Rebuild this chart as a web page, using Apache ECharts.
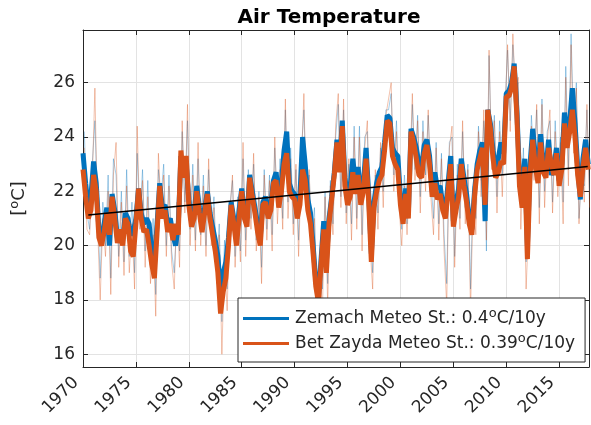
<!DOCTYPE html>
<html>
<head>
<meta charset="utf-8">
<script src="https://cdn.jsdelivr.net/npm/echarts@6/dist/echarts.min.js"></script>
<style>
  html, body { margin: 0; padding: 0; background: #fff; }
  #chart { width: 591px; height: 425px; }
</style>
</head>
<body>
<div id="chart"></div>
<script>
// Quarterly series, first value at 1970.0
const START_YEAR = 1970;
const STEP = 0.25;
const RAW_OFFSET = 0.125;

// Smoothed air temperature, Zemach station [°C]
const zemachSmooth = [
  23.4, 22.3, 21.4, 21.8,  23.1, 22.3, 20.6, 20.2,  20.8, 21.4, 20.0, 21.9,  21.3, 20.3, 20.4, 20.2,
  21.2, 21.0, 20.4, 20.5,  21.0, 22.1, 21.2, 20.8,  21.0, 20.8, 19.8, 19.3,  20.8, 22.3, 21.4, 21.5,
  20.8, 21.0, 20.4, 20.0,  20.7, 23.3, 22.6, 23.0,  21.7, 20.9, 21.2, 22.2,  21.4, 20.8, 21.4, 22.0,
  21.2, 20.7, 20.2, 19.6,  18.3, 19.0, 19.4, 20.3,  21.6, 21.0, 20.3, 21.3,  22.1, 21.2, 21.0, 22.6,
  22.0, 21.4, 20.8, 20.3,  21.6, 21.8, 21.3, 21.5,  22.4, 22.7, 21.7, 22.3,  23.5, 24.2, 22.3, 22.0,
  21.9, 21.3, 21.8, 24.0,  23.0, 21.7, 21.2, 20.0,  18.7, 18.1, 19.5, 20.9,  19.4, 21.0, 21.8, 22.7,
  23.9, 23.0, 24.6, 22.5,  21.8, 22.2, 23.2, 22.3,  22.9, 21.8, 22.3, 23.6,  21.9, 19.7, 21.6, 22.3,
  22.7, 22.9, 23.8, 24.8,  24.7, 23.6, 23.4, 23.3,  21.8, 21.0, 22.1, 21.2,  24.3, 24.0, 23.6, 23.0,
  22.9, 23.7, 23.9, 23.3,  22.0, 22.7, 22.1, 22.2,  21.5, 21.2, 22.3, 23.3,  20.9, 21.6, 22.1, 23.2,
  22.5, 21.9, 21.0, 20.6,  22.0, 23.0, 23.5, 23.8,  20.9, 25.0, 24.5, 23.5,  22.8, 23.2, 23.8, 23.4,
  25.6, 25.7, 26.0, 26.7,  25.0, 22.6, 21.9, 23.2,  20.0, 23.0, 24.3, 23.3,  22.7, 24.1, 23.0, 22.8,
  23.9, 22.6, 22.9, 23.6,  22.4, 23.0, 24.9, 24.0,  24.6, 25.8, 24.5, 22.9,  21.7, 23.2, 23.9, 23.0
];

// Smoothed air temperature, Bet Zayda station [°C]
const betZaydaSmooth = [
  22.8, 21.8, 21.0, 21.3,  22.6, 22.0, 20.3, 20.0,  20.5, 21.2, 20.4, 21.8,  21.0, 20.1, 20.6, 20.0,
  21.0, 20.8, 19.8, 19.6,  20.8, 22.1, 21.0, 20.5,  20.6, 20.0, 19.3, 18.8,  20.5, 22.2, 21.0, 21.3,
  20.5, 20.8, 20.2, 20.8,  20.4, 23.5, 22.5, 23.3,  21.5, 20.7, 21.0, 22.0,  21.2, 20.5, 21.2, 21.9,
  21.0, 20.4, 19.8, 19.0,  17.5, 18.3, 18.8, 20.0,  21.5, 20.8, 20.0, 21.0,  22.0, 21.0, 20.7, 22.5,
  21.8, 21.2, 20.5, 20.0,  21.5, 21.6, 21.0, 21.3,  22.3, 22.4, 21.4, 22.0,  23.0, 23.4, 22.0, 21.8,
  21.7, 21.0, 21.5, 22.8,  22.4, 21.3, 20.8, 19.7,  18.5, 17.9, 19.3, 20.6,  19.0, 20.8, 21.7, 22.6,
  23.8, 22.7, 24.4, 22.2,  21.5, 21.8, 22.7, 21.9,  22.6, 21.5, 22.0, 23.2,  21.6, 19.4, 21.4, 22.0,
  22.4, 22.6, 23.5, 24.6,  24.5, 23.3, 23.0, 22.8,  21.5, 20.8, 21.9, 21.0,  24.2, 23.8, 23.2, 22.6,
  22.5, 23.4, 23.7, 23.0,  21.8, 22.3, 21.7, 21.9,  21.3, 21.0, 22.0, 23.0,  20.7, 21.3, 21.8, 23.0,
  22.2, 21.6, 20.8, 20.4,  21.8, 22.8, 23.2, 23.6,  21.5, 25.0, 24.3, 23.2,  22.5, 22.7, 23.1, 23.0,
  25.5, 25.5, 25.8, 26.6,  24.8, 22.2, 21.4, 22.9,  19.5, 22.6, 23.9, 22.9,  22.3, 23.8, 22.7, 22.5,
  23.6, 23.0, 22.6, 23.4,  22.2, 22.8, 24.5, 23.6,  24.2, 25.0, 24.0, 22.6,  21.8, 22.9, 23.6, 22.8
];

// Unsmoothed readings, Zemach station [°C]
const zemachRaw = [
  24.2, 21.2, 20.6, 23.0,  24.6, 21.4, 18.8, 21.6,  20.0, 22.6, 18.8, 23.2,  22.6, 19.6, 22.0, 19.4,
  22.8, 19.6, 21.6, 19.0,  23.4, 21.0, 22.8, 19.8,  22.4, 19.2, 21.0, 18.2,  22.8, 21.8, 23.0, 20.0,
  22.6, 19.8, 19.0, 21.0,  19.8, 24.2, 21.6, 24.6,  20.6, 23.0, 20.2, 23.2,  20.4, 22.6, 20.0, 22.8,
  20.4, 21.8, 19.2, 20.8,  17.2, 20.2, 18.4, 21.4,  22.4, 19.6, 21.8, 19.8,  23.2, 20.2, 22.8, 21.0,
  23.0, 20.2, 22.0, 19.2,  22.8, 20.6, 22.6, 20.4,  23.6, 21.4, 23.2, 21.0,  25.0, 21.6, 23.6, 20.8,
  22.8, 20.2, 23.4, 25.0,  21.8, 22.6, 20.2, 21.4,  17.2, 19.6, 18.4, 22.0,  18.6, 22.4, 20.8, 24.0,
  25.2, 21.8, 25.0, 21.2,  23.0, 20.8, 24.4, 21.0,  24.4, 20.4, 24.0, 24.2,  20.6, 19.0, 22.6, 21.2,
  23.6, 22.0, 25.0, 25.0,  25.6, 22.6, 24.6, 21.8,  20.6, 22.6, 20.8, 22.4,  25.2, 22.8, 24.8, 21.8,
  24.6, 22.6, 24.8, 22.4,  21.0, 23.8, 20.8, 23.4,  20.4, 18.6, 23.8, 24.0,  19.6, 23.0, 21.0, 24.2,
  21.4, 23.0, 18.4, 22.2,  21.0, 24.4, 22.4, 24.6,  19.8, 27.0, 23.2, 24.8,  21.8, 24.6, 22.6, 25.0,
  27.2, 24.6, 27.4, 25.8,  26.0, 21.4, 23.6, 19.4,  21.4, 24.8, 23.0, 25.0,  21.4, 25.4, 22.0, 24.2,
  24.6, 21.6, 24.6, 22.4,  24.0, 21.6, 26.6, 22.8,  27.8, 24.2, 26.0, 21.0,  22.6, 22.2, 25.0, 22.0
];

// Unsmoothed readings, Bet Zayda station [°C]
const betZaydaRaw = [
  23.6, 20.6, 20.4, 22.4,  25.8, 20.8, 18.0, 21.0,  19.6, 22.0, 18.2, 22.6,  23.8, 19.2, 21.6, 18.9,
  22.2, 19.0, 20.8, 18.4,  24.4, 20.6, 22.4, 19.2,  21.8, 18.6, 20.4, 17.4,  23.4, 21.4, 22.6, 19.6,
  22.2, 19.4, 18.4, 21.6,  19.2, 24.6, 21.2, 25.2,  20.0, 22.6, 19.8, 23.8,  20.0, 22.2, 19.6, 23.2,
  20.0, 21.4, 18.6, 20.4,  16.0, 19.6, 17.6, 21.2,  22.6, 19.2, 21.4, 19.4,  23.8, 19.6, 22.4, 20.6,
  23.4, 19.8, 21.8, 18.6,  22.6, 20.2, 22.4, 19.8,  24.0, 20.8, 22.8, 20.6,  25.4, 21.0, 23.2, 20.4,
  23.0, 19.6, 22.8, 25.6,  21.2, 22.8, 19.6, 21.0,  16.0, 19.2, 17.6, 21.8,  17.8, 22.2, 20.4, 24.4,
  25.6, 21.4, 25.4, 20.8,  23.2, 20.2, 24.0, 20.6,  24.0, 19.8, 23.6, 24.6,  20.0, 18.4, 22.8, 20.6,
  23.8, 21.4, 24.8, 25.4,  26.0, 22.0, 24.2, 21.4,  20.0, 22.2, 20.4, 22.6,  25.6, 22.4, 24.6, 21.2,
  24.2, 22.0, 25.0, 21.8,  20.4, 23.6, 20.2, 23.2,  19.8, 17.8, 23.6, 24.4,  19.2, 22.6, 20.6, 24.6,
  20.8, 22.8, 17.6, 21.8,  20.4, 24.2, 21.8, 25.0,  20.2, 27.2, 22.8, 24.6,  21.2, 24.2, 21.8, 24.8,
  27.4, 24.2, 27.8, 25.4,  26.2, 20.6, 23.2, 18.4,  20.8, 24.4, 22.4, 25.2,  20.8, 25.2, 21.4, 23.8,
  25.0, 21.2, 24.2, 21.8,  23.8, 20.8, 26.2, 22.2,  27.4, 23.4, 25.8, 20.8,  23.2, 21.6, 25.2, 21.4
];

// Linear trend (end points)
const trendYears = [1970.5, 2017.7];
const trendValues = [21.13, 22.91];

const xTicks = [1970, 1975, 1980, 1985, 1990, 1995, 2000, 2005, 2010, 2015];
const yTicks = [16, 18, 20, 22, 24, 26];

const seriesNames = ['Zemach Meteo St.', 'Bet Zayda Meteo St.'];
const trendRates = ['0.4', '0.39'];

const BLUE = '#0072BD';
const ORANGE = '#D95319';

function toPairs(values, offset) {
  return values.map((v, i) => [START_YEAR + offset + i * STEP, v]);
}

const chart = echarts.init(document.getElementById('chart'), null, { renderer: 'canvas' });

const FONT = 'DejaVu Sans';
const gridColor = '#e3e3e3';
const axisColor = '#262626';
const supStyle = { fontFamily: FONT, fontSize: 13, verticalAlign: 'top', padding: [0, 0, 10, 0], color: '#262626' };

const baseX = {
  type: 'value', min: 1970, max: 2017.82,
  axisLine: { show: true, onZero: false, lineStyle: { color: axisColor, width: 1 } },
  splitLine: { show: false }
};
const baseY = {
  type: 'value', min: 15.53, max: 27.94,
  axisLine: { show: true, onZero: false, lineStyle: { color: axisColor, width: 1 } },
  splitLine: { show: false }
};

const option = {
  animation: false,
  backgroundColor: '#fff',
  title: {
    text: 'Air Temperature',
    left: 324, top: 3, textAlign: 'center',
    textStyle: { fontFamily: FONT, fontWeight: 'bold', fontSize: 20, color: '#000' }
  },
  grid: { left: 59.6, right: 2, top: 30, bottom: 58 },
  xAxis: [
    Object.assign({}, baseX, {
      position: 'bottom',
      axisTick: { show: true, inside: true, length: 5, customValues: xTicks, lineStyle: { color: axisColor } },
      axisLabel: {
        customValues: xTicks, rotate: 45, margin: 6,
        padding: [0, 10, 0, 0],
        formatter: v => String(v),
        fontFamily: FONT, fontSize: 17, color: '#262626'
      },
      splitLine: { show: true, lineStyle: { color: gridColor, width: 1 } }
    }),
    Object.assign({}, baseX, {
      position: 'top',
      axisTick: { show: true, inside: true, length: 5, customValues: xTicks, lineStyle: { color: axisColor } },
      axisLabel: { show: false }
    })
  ],
  yAxis: [
    Object.assign({}, baseY, {
      position: 'left',
      name: '[{sup|o}C]',
      nameLocation: 'middle', nameGap: 52, nameRotate: 90,
      nameTextStyle: {
        fontFamily: FONT, fontSize: 18, color: '#262626',
        rich: { sup: supStyle }
      },
      axisTick: { show: true, inside: true, length: 5, customValues: yTicks, lineStyle: { color: axisColor } },
      axisLabel: { customValues: yTicks, margin: 8, fontFamily: FONT, fontSize: 17, color: '#262626' },
      splitLine: { show: true, lineStyle: { color: gridColor, width: 1 } }
    }),
    Object.assign({}, baseY, {
      position: 'right',
      axisTick: { show: true, inside: true, length: 5, customValues: yTicks, lineStyle: { color: axisColor } },
      axisLabel: { show: false }
    })
  ],
  legend: {
    data: seriesNames.map(n => ({ name: n })),
    orient: 'vertical',
    left: 238, top: 298,
    backgroundColor: '#fff',
    borderColor: axisColor, borderWidth: 1, borderRadius: 0,
    padding: [9, 10, 10, 5],
    itemGap: 5,
    itemWidth: 46, itemHeight: 3,
    icon: 'rect',
    formatter: function (name) {
      const i = seriesNames.indexOf(name);
      return name + ': ' + trendRates[i] + '{sup|o}C/10y';
    },
    textStyle: {
      fontFamily: FONT, fontSize: 17, color: '#262626', padding: [0, 0, 0, 1],
      rich: { sup: supStyle }
    }
  },
  series: [
    {
      name: 'Zemach raw', type: 'line', showSymbol: false, silent: true,
      data: toPairs(zemachRaw, RAW_OFFSET),
      lineStyle: { color: BLUE, width: 1, opacity: 0.35 }, z: 1
    },
    {
      name: 'Bet Zayda raw', type: 'line', showSymbol: false, silent: true,
      data: toPairs(betZaydaRaw, RAW_OFFSET),
      lineStyle: { color: ORANGE, width: 1, opacity: 0.35 }, z: 1
    },
    {
      name: seriesNames[0], type: 'line', showSymbol: false,
      data: toPairs(zemachSmooth, 0),
      itemStyle: { color: BLUE },
      lineStyle: { color: BLUE, width: 5 }, z: 2
    },
    {
      name: seriesNames[1], type: 'line', showSymbol: false,
      data: toPairs(betZaydaSmooth, 0),
      itemStyle: { color: ORANGE },
      lineStyle: { color: ORANGE, width: 5 }, z: 3
    },
    {
      name: 'trend', type: 'line', showSymbol: false, silent: true,
      data: trendYears.map((y, i) => [y, trendValues[i]]),
      lineStyle: { color: '#000', width: 1.5 }, z: 4
    }
  ]
};

chart.setOption(option);
</script>
</body>
</html>
